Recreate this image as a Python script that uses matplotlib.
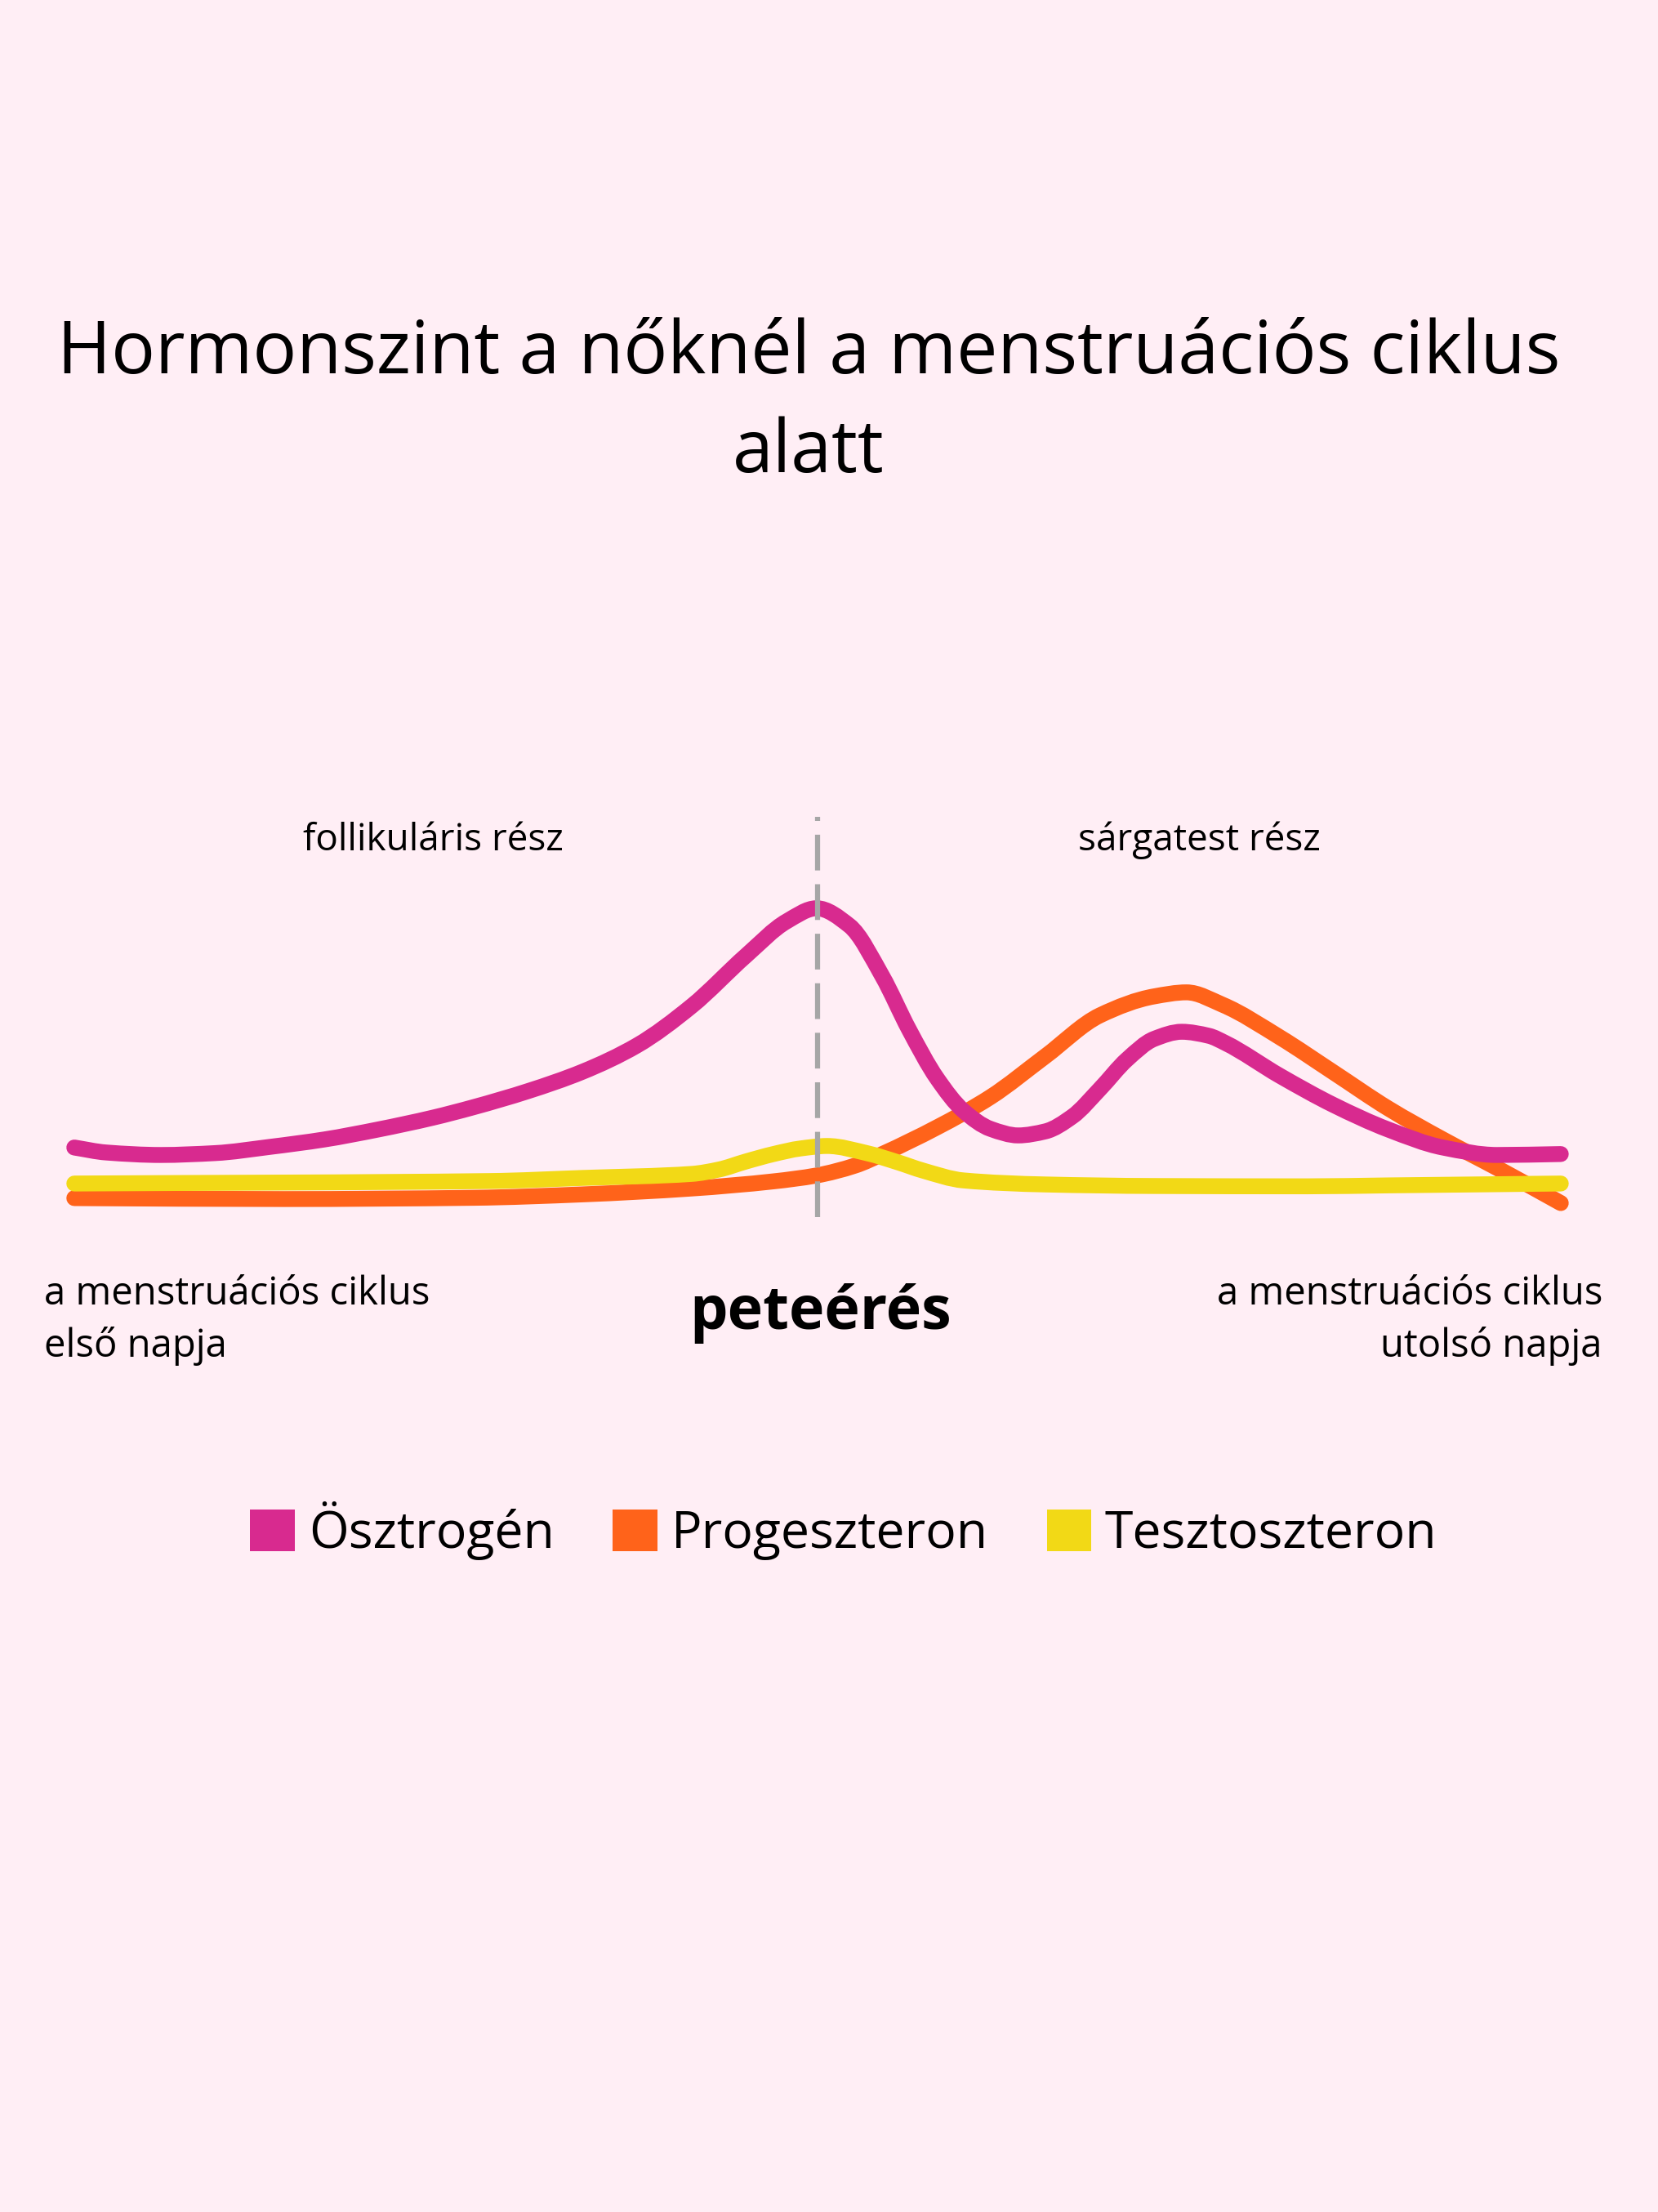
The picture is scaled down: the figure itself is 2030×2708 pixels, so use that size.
import matplotlib
matplotlib.use("Agg")
import matplotlib.pyplot as plt
from matplotlib.patches import Patch, PathPatch
from matplotlib.path import Path

# hormone levels (arbitrary units) by cycle day
estrogen_day = [0.0, 0.6, 1.63, 2.65, 3.68, 4.71, 5.72, 6.75, 7.52, 8.55, 9.57, 10.6, 11.63,
                12.65, 13.42, 13.98, 14.6, 15.22, 15.72, 16.25, 16.75, 17.26, 17.78, 18.29,
                18.8, 19.32, 19.83, 20.34, 20.86, 21.37, 21.68, 22.71, 23.72, 24.75, 25.78,
                26.8, 28.0]
estrogen_level = [22.4, 20.8, 20.0, 20.6, 22.6, 25.0, 28.2, 32.0, 35.4, 40.6, 46.8, 55.3, 68.0,
                  84.2, 95.3, 99.5, 93.9, 77.6, 60.5, 44.7, 34.2, 28.4, 26.3, 27.6,
                  32.4, 41.3, 50.8, 57.4, 59.7, 58.4, 56.1, 45.5, 36.1, 28.2, 22.4,
                  20.0, 20.3]

progesterone_day = [0.0, 3.94, 7.52, 9.57, 11.63, 13.17, 13.98, 14.71, 15.22, 16.25, 17.26,
                    18.29, 19.32, 20.34, 20.95, 21.63, 22.71, 23.72, 24.75, 25.78, 26.8, 28.0]
progesterone_level = [6.1, 5.8, 6.2, 7.3, 9.2, 11.5, 13.4, 16.6, 20.3, 28.9, 38.7,
                      51.8, 65.0, 71.1, 72.4, 68.4, 57.9, 46.6, 35.0, 25.0, 15.8, 4.5]

testosterone_day = [0.0, 7.83, 9.57, 11.63, 12.14, 12.65, 13.17, 13.68, 14.18, 14.95, 15.52,
                    15.98, 16.75, 18.29, 20.34, 23.22, 24.75, 28.0]
testosterone_level = [10.8, 11.6, 12.6, 13.9, 15.3, 17.9, 20.3, 22.1, 22.9, 20.5, 17.6,
                      15.0, 11.8, 10.5, 10.0, 9.9, 10.2, 10.8]

ovulation_day = 14.0

series_names = ["Ösztrogén", "Progeszteron", "Tesztoszteron"]
colors = ["#D82A8F", "#FF631A", "#F2D916"]
bg = "#FFEEF5"
font = "Open Sans"


def smooth_path(xs, ys):
    # monotone (pchip-style) tangents, each segment drawn as a cubic bezier
    n = len(xs)
    h = [xs[i + 1] - xs[i] for i in range(n - 1)]
    d = [(ys[i + 1] - ys[i]) / h[i] for i in range(n - 1)]
    m = [d[0]] + [0.0] * (n - 2) + [d[-1]]
    for i in range(1, n - 1):
        if d[i - 1] * d[i] > 0:
            w1 = 2 * h[i] + h[i - 1]
            w2 = h[i] + 2 * h[i - 1]
            m[i] = (w1 + w2) / (w1 / d[i - 1] + w2 / d[i])
    verts = [(xs[0], ys[0])]
    codes = [Path.MOVETO]
    for i in range(n - 1):
        verts += [(xs[i] + h[i] / 3, ys[i] + m[i] * h[i] / 3),
                  (xs[i + 1] - h[i] / 3, ys[i + 1] - m[i + 1] * h[i] / 3),
                  (xs[i + 1], ys[i + 1])]
        codes += [Path.CURVE4] * 3
    return Path(verts, codes)


fig = plt.figure(figsize=(20.31, 27.08), dpi=100, facecolor=bg)
ax = fig.add_axes([0.0448, 0.4498, 0.8961, 0.1403])
ax.set_facecolor(bg)
ax.set_xlim(0, 28)
ax.set_ylim(0, 100)
ax.axis("off")

ax.plot([ovulation_day, ovulation_day], [0, 129], color="#A6A6A6", lw=4.5,
        dashes=(7, 2.7), clip_on=False, zorder=5)

series = [(progesterone_day, progesterone_level, colors[1], 2),
          (testosterone_day, testosterone_level, colors[2], 3),
          (estrogen_day, estrogen_level, colors[0], 4)]
for xs, ys, c, z in series:
    ax.add_patch(PathPatch(smooth_path(xs, ys), fill=False, edgecolor=c, lw=14,
                           capstyle="round", joinstyle="round", clip_on=False, zorder=z))

fig.text(0.4875, 0.8312, "Hormonszint a nőknél a menstruációs ciklus", ha="center",
         va="baseline", fontsize=64.5, family=font)
fig.text(0.4875, 0.7866, "alatt", ha="center", va="baseline", fontsize=64.5, family=font)

fig.text(530 / 2031, 0.6156, "follikuláris rész", ha="center", va="baseline",
         fontsize=33, family=font)
fig.text(1468 / 2031, 0.6156, "sárgatest rész", ha="center", va="baseline",
         fontsize=33, family=font)

fig.text(54 / 2031, 0.4103, "a menstruációs ciklus", ha="left", va="baseline",
         fontsize=34, family=font)
fig.text(54 / 2031, 0.3867, "első napja", ha="left", va="baseline", fontsize=34, family=font)
fig.text(1962 / 2031, 0.4103, "a menstruációs ciklus", ha="right", va="baseline",
         fontsize=34, family=font)
fig.text(1962 / 2031, 0.3867, "utolsó napja", ha="right", va="baseline", fontsize=34, family=font)

fig.text(1005 / 2031, 0.3993, "peteérés", ha="center", va="baseline", fontsize=53,
         fontweight="bold", family=font)

handles = [Patch(facecolor=c, edgecolor="none") for c in colors]
fig.legend(handles, series_names, loc="center", bbox_to_anchor=(0.5086, 0.308), ncol=3,
           frameon=False, prop={"family": font, "size": 45}, handlelength=0.87,
           handleheight=0.87, handletextpad=0.27, columnspacing=1.15)

fig.savefig("out.png", dpi=100, facecolor=bg)
